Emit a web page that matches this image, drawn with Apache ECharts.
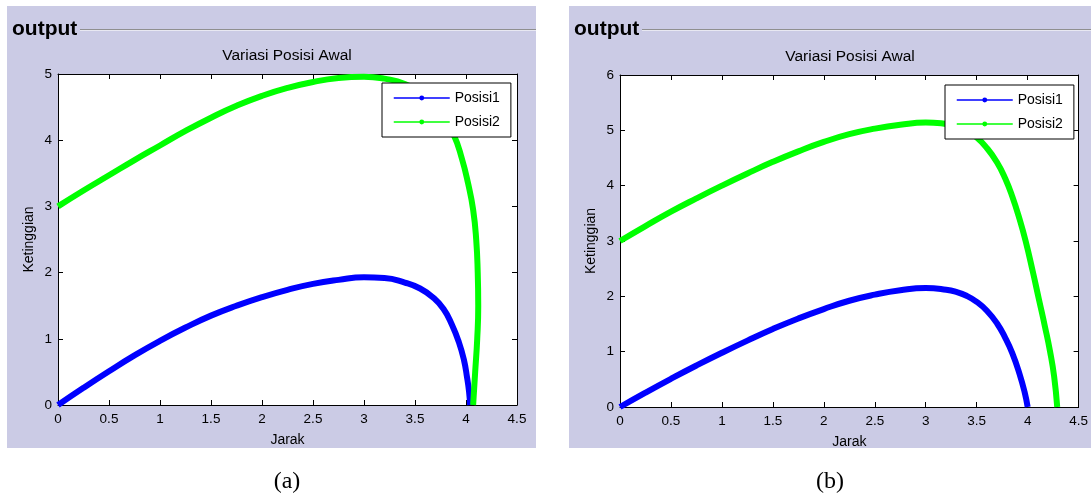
<!DOCTYPE html>
<html>
<head>
<meta charset="utf-8">
<script src="https://cdn.jsdelivr.net/npm/echarts@6/dist/echarts.min.js"></script>
<style>
  html, body { margin: 0; padding: 0; background: #fff; }
  #chart { width: 1091px; height: 501px; }
</style>
</head>
<body>
<div id="chart"></div>
<script>
  // (a) jarak / ketinggian
  var jarak1A = [0, 0.25, 0.5, 0.75, 1, 1.25, 1.5, 1.75, 2, 2.25, 2.5, 2.75, 3, 3.2, 3.4, 3.55, 3.68, 3.78, 3.86, 3.93, 3.98, 4.01, 4.03, 4.04];
  var tinggi1A = [0, 0.26, 0.51, 0.75, 0.97, 1.17, 1.35, 1.5, 1.63, 1.74, 1.83, 1.89, 1.93, 1.92, 1.85, 1.76, 1.62, 1.45, 1.22, 0.95, 0.68, 0.42, 0.2, 0];
  var jarak2A = [0, 0.25, 0.5, 0.75, 1, 1.25, 1.5, 1.75, 2, 2.25, 2.5, 2.75, 3, 3.2, 3.4, 3.6, 3.75, 3.88, 3.96, 4.02, 4.07, 4.1, 4.115, 4.12, 4.11, 4.09, 4.07];
  var tinggi2A = [3, 3.24, 3.47, 3.7, 3.92, 4.14, 4.34, 4.52, 4.67, 4.79, 4.88, 4.94, 4.96, 4.93, 4.85, 4.66, 4.42, 4.08, 3.72, 3.35, 2.95, 2.5, 2.0, 1.5, 1.0, 0.5, 0];

  // (b)
  var jarak1B = [0, 0.25, 0.5, 0.75, 1, 1.25, 1.5, 1.75, 2, 2.25, 2.5, 2.75, 3, 3.2, 3.3, 3.4, 3.5, 3.6, 3.7, 3.78, 3.85, 3.92, 3.97, 4.0];
  var tinggi1B = [0, 0.26, 0.51, 0.75, 0.98, 1.2, 1.41, 1.6, 1.77, 1.92, 2.03, 2.11, 2.15, 2.12, 2.08, 2.01, 1.9, 1.74, 1.51, 1.25, 0.97, 0.6, 0.27, 0];
  var jarak2B = [0, 0.25, 0.5, 0.75, 1, 1.25, 1.5, 1.75, 2, 2.25, 2.5, 2.75, 3, 3.15, 3.3, 3.4, 3.5, 3.6, 3.7, 3.78, 3.85, 3.92, 3.98, 4.05, 4.11, 4.17, 4.22, 4.26, 4.29];
  var tinggi2B = [3, 3.27, 3.53, 3.77, 4.0, 4.22, 4.43, 4.62, 4.79, 4.93, 5.03, 5.1, 5.14, 5.13, 5.06, 4.99, 4.87, 4.68, 4.42, 4.13, 3.8, 3.4, 3.0, 2.45, 1.95, 1.45, 1.0, 0.55, 0];

  var xMax = 4.5, xStep = 0.5;
  var yMaxA = 5, yMaxB = 6, yStep = 1;

  function pairs(xs, ys) {
    return xs.map(function (x, i) { return [x, ys[i]]; });
  }

  var font = 'Liberation Sans, Arial, sans-serif';

  function xAx(grid, max, bottom) {
    return {
      type: 'value', gridIndex: grid, position: bottom ? 'bottom' : 'top',
      min: 0, max: max, interval: xStep,
      name: bottom ? 'Jarak' : '', nameLocation: 'middle', nameGap: 28,
      nameTextStyle: { color: '#000', fontSize: 14, fontFamily: font },
      axisLine: { show: true, onZero: false, lineStyle: { color: '#000', width: 1 } },
      axisTick: { show: true, inside: true, length: 5, lineStyle: { color: '#000' } },
      axisLabel: { show: bottom, color: '#000', fontSize: 13.5, fontFamily: font, margin: 7 },
      splitLine: { show: false }
    };
  }
  function yAx(grid, max, left) {
    return {
      type: 'value', gridIndex: grid, position: left ? 'left' : 'right',
      min: 0, max: max, interval: yStep,
      name: left ? 'Ketinggian' : '', nameLocation: 'middle', nameGap: 22,
      nameTextStyle: { color: '#000', fontSize: 14, fontFamily: font },
      axisLine: { show: true, onZero: false, lineStyle: { color: '#000', width: 1 } },
      axisTick: { show: true, inside: true, length: 5, lineStyle: { color: '#000' } },
      axisLabel: { show: left, color: '#000', fontSize: 13.5, fontFamily: font, margin: 6 },
      splitLine: { show: false }
    };
  }
  function line(name, data, xi, yi, color) {
    return {
      name: name, type: 'line', xAxisIndex: xi, yAxisIndex: yi,
      data: data, smooth: 0.5, symbol: 'circle', showSymbol: false,
      itemStyle: { color: color },
      lineStyle: { color: color, width: 6 }
    };
  }
  function legendAt(left, top) {
    return {
      data: ['Posisi1', 'Posisi2'], orient: 'vertical', left: left, top: top,
      backgroundColor: '#fff', borderColor: '#000', borderWidth: 1, borderRadius: 0,
      padding: [8, 11, 8, 11], itemWidth: 56, itemHeight: 6, itemGap: 10,
      lineStyle: { width: 1.5 },
      textStyle: { color: '#000', fontSize: 14, fontFamily: font },
      selectedMode: false
    };
  }

  var bg = '#cbcbe5';
  var chart = echarts.init(document.getElementById('chart'));
  chart.setOption({
    animation: false,
    backgroundColor: '#fff',
    graphic: [
      { type: 'rect', shape: { x: 7, y: 6, width: 529, height: 442 }, style: { fill: bg }, z: -10 },
      { type: 'rect', shape: { x: 569, y: 6, width: 522, height: 442 }, style: { fill: bg }, z: -10 },
      { type: 'text', x: 12, y: 29, style: { text: 'output', fill: '#000', font: 'bold 21px ' + font, textVerticalAlign: 'middle' } },
      { type: 'text', x: 574, y: 29, style: { text: 'output', fill: '#000', font: 'bold 21px ' + font, textVerticalAlign: 'middle' } },
      { type: 'line', shape: { x1: 80, y1: 29.5, x2: 536, y2: 29.5 }, style: { stroke: '#8f8f8f', lineWidth: 1 } },
      { type: 'line', shape: { x1: 80, y1: 30.5, x2: 536, y2: 30.5 }, style: { stroke: '#e8e8f2', lineWidth: 1 } },
      { type: 'line', shape: { x1: 642, y1: 29.5, x2: 1091, y2: 29.5 }, style: { stroke: '#8f8f8f', lineWidth: 1 } },
      { type: 'line', shape: { x1: 642, y1: 30.5, x2: 1091, y2: 30.5 }, style: { stroke: '#e8e8f2', lineWidth: 1 } },
      { type: 'text', x: 287, y: 56, style: { text: 'Variasi Posisi Awal', fill: '#000', font: '15.5px ' + font, textAlign: 'center', textVerticalAlign: 'middle' } },
      { type: 'text', x: 850, y: 57, style: { text: 'Variasi Posisi Awal', fill: '#000', font: '15.5px ' + font, textAlign: 'center', textVerticalAlign: 'middle' } },
      { type: 'text', x: 287, y: 482, style: { text: '(a)', fill: '#000', font: '24px Liberation Serif, Times New Roman, serif', textAlign: 'center', textVerticalAlign: 'middle' } },
      { type: 'text', x: 830, y: 482, style: { text: '(b)', fill: '#000', font: '24px Liberation Serif, Times New Roman, serif', textAlign: 'center', textVerticalAlign: 'middle' } }
    ],
    grid: [
      { left: 58, top: 74, width: 459, height: 331, show: true, backgroundColor: '#fff', borderWidth: 0 },
      { left: 620, top: 75, width: 460, height: 332, show: true, backgroundColor: '#fff', borderWidth: 0 }
    ],
    legend: [legendAt(382, 83), legendAt(945, 85)],
    xAxis: [xAx(0, xMax, true), xAx(0, xMax, false), xAx(1, xMax, true), xAx(1, xMax, false)],
    yAxis: [yAx(0, yMaxA, true), yAx(0, yMaxA, false), yAx(1, yMaxB, true), yAx(1, yMaxB, false)],
    series: [
      line('Posisi1', pairs(jarak1A, tinggi1A), 0, 0, '#0000ff'),
      line('Posisi2', pairs(jarak2A, tinggi2A), 0, 0, '#00ff00'),
      line('Posisi1', pairs(jarak1B, tinggi1B), 2, 2, '#0000ff'),
      line('Posisi2', pairs(jarak2B, tinggi2B), 2, 2, '#00ff00')
    ]
  });
</script>
</body>
</html>
